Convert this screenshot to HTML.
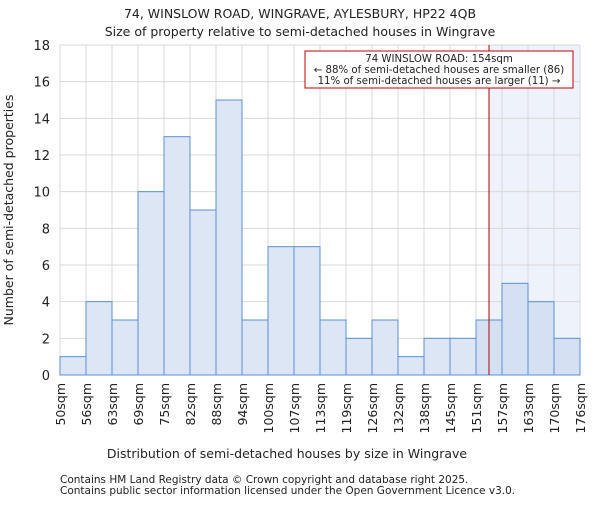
<!DOCTYPE html>
<html><head><meta charset="utf-8"><style>
body{margin:0;background:#fff;font-family:"Liberation Sans","DejaVu Sans",sans-serif}
svg text{font-family:"DejaVu Sans","Liberation Sans",sans-serif;fill:#222}
</style></head><body>
<svg id="c" width="600" height="500">
<text x="300" y="18" font-size="12.5" text-anchor="middle">74, WINSLOW ROAD, WINGRAVE, AYLESBURY, HP22 4QB</text>
<text x="300" y="36" font-size="12.5" text-anchor="middle">Size of property relative to semi-detached houses in Wingrave</text>
<g id="plot"></g>
<text x="287" y="458" font-size="12.5" text-anchor="middle">Distribution of semi-detached houses by size in Wingrave</text>
<text transform="translate(13,210) rotate(-90)" font-size="12.5" text-anchor="middle">Number of semi-detached properties</text>
<text x="60" y="483" font-size="10.5" fill="#555">Contains HM Land Registry data © Crown copyright and database right 2025.</text>
<text x="60" y="494" font-size="10.5" fill="#555">Contains public sector information licensed under the Open Government Licence v3.0.</text>
</svg>
<script>
const categories=["50sqm","56sqm","63sqm","69sqm","75sqm","82sqm","88sqm","94sqm","100sqm","107sqm","113sqm","119sqm","126sqm","132sqm","138sqm","145sqm","151sqm","157sqm","163sqm","170sqm","176sqm"];
const counts=[1,4,3,10,13,9,15,3,7,7,3,2,3,1,2,2,3,5,4,2];
const yTicks=[0,2,4,6,8,10,12,14,16,18];
const propertyBin=16.5;
const NS="http://www.w3.org/2000/svg";
const g=document.getElementById('plot');
const X0=60,X1=580,Y0=375,Y1=45,YMAX=18;
const bw=(X1-X0)/counts.length;
const xs=i=>X0+i*bw;
const ys=v=>Y0-(v/YMAX)*(Y0-Y1);
function mk(t,a){const e=document.createElementNS(NS,t);for(const k in a)e.setAttribute(k,a[k]);g.appendChild(e);return e;}
const mx=xs(propertyBin);
let s=mk('rect',{x:mx,y:Y1,width:X1-mx,height:Y0-Y1,fill:'#eef2fb'});


for(let i=0;i<categories.length;i++){
 const l=mk('line',{x1:xs(i),x2:xs(i),y1:Y1,y2:Y0,stroke:'#d8d8d8'});
 
 
}
yTicks.forEach(t=>{
 const l=mk('line',{x1:X0,x2:X1,y1:ys(t),y2:ys(t),stroke:'#d8d8d8'});
 
 
 const tx=mk('text',{x:X0-10,y:ys(t)+5,'font-size':13,'text-anchor':'end'});tx.textContent=t;
 
 
});
counts.forEach((v,i)=>{
 const r=mk('rect',{x:xs(i),y:ys(v),width:bw,height:Y0-ys(v),fill:i+1>propertyBin?'#d6e0f3':'#dde6f4',stroke:'#5b8fd6','stroke-width':1});
 
 
});
categories.forEach((c,i)=>{
 const t=mk('text',{transform:`translate(${xs(i)+5},383) rotate(-90)`,'font-size':12.5,'text-anchor':'end'});t.textContent=c;
 
 
});
let m=mk('line',{x1:mx,x2:mx,y1:Y1,y2:Y0,stroke:'#b00000','stroke-width':1});


let b=mk('rect',{x:305,y:51,width:268,height:37,fill:'#fff',stroke:'#c00000'});


["74 WINSLOW ROAD: 154sqm","← 88% of semi-detached houses are smaller (86)","11% of semi-detached houses are larger (11) →"].forEach((tx,i)=>{
 const t=mk('text',{x:439,y:62+i*11,'font-size':10.2,'text-anchor':'middle'});t.textContent=tx;
 
 
});
</script>
</body></html>
